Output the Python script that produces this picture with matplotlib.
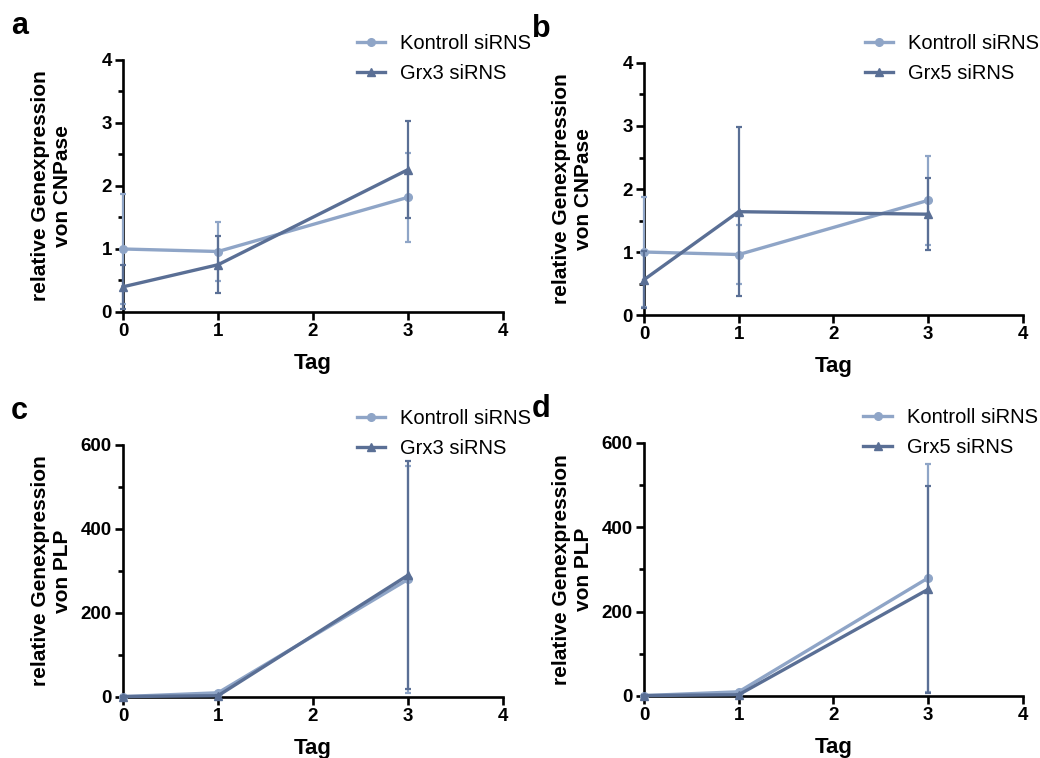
import matplotlib
matplotlib.use("Agg")
import matplotlib.pyplot as plt
from matplotlib.ticker import MultipleLocator

plt.rcParams['font.family'] = ['Liberation Sans', 'DejaVu Sans']

# Data
tage = [0, 1, 3]

# CNPase
cnp_kontroll = [1.00, 0.96, 1.82]
cnp_kontroll_err = [0.88, 0.47, 0.71]
cnp_grx3 = [0.40, 0.75, 2.26]
cnp_grx3_err = [0.35, 0.45, 0.77]
cnp_grx5 = [0.56, 1.64, 1.60]
cnp_grx5_err = [0.45, 1.34, 0.57]

# PLP
plp_kontroll = [1, 10, 280]
plp_kontroll_err = [0.5, 3, 270]
plp_grx3 = [1, 3, 290]
plp_grx3_err = [0.5, 2, 272]
plp_grx5 = [1, 3, 253]
plp_grx5_err = [0.5, 2, 245]

hell = "#8fa5c7"
dunkel = "#5a6f95"

fig = plt.figure(figsize=(10.4, 7.58), dpi=100)

# axes rectangles and legend anchors
positionen = {
    "a": [0.1183, 0.5884, 0.3654, 0.3325],
    "b": [0.6192, 0.5844, 0.3644, 0.3325],
    "c": [0.1183, 0.0805, 0.3654, 0.3325],
    "d": [0.6192, 0.0818, 0.3644, 0.3338],
}
legend_pos = {
    "a": (0.595, 1.135),
    "b": (0.562, 1.147),
    "c": (0.595, 1.175),
    "d": (0.558, 1.17),
}

panels = [
    ("a", cnp_kontroll, cnp_kontroll_err, cnp_grx3, cnp_grx3_err, "Grx3 siRNS", "von CNPase", 4, 1, 0.5),
    ("b", cnp_kontroll, cnp_kontroll_err, cnp_grx5, cnp_grx5_err, "Grx5 siRNS", "von CNPase", 4, 1, 0.5),
    ("c", plp_kontroll, plp_kontroll_err, plp_grx3, plp_grx3_err, "Grx3 siRNS", "von PLP", 600, 200, 100),
    ("d", plp_kontroll, plp_kontroll_err, plp_grx5, plp_grx5_err, "Grx5 siRNS", "von PLP", 600, 200, 100),
]

for name, k, k_err, g, g_err, g_label, gen, ymax, major, minor in panels:
    ax = fig.add_axes(positionen[name])

    ek = ax.errorbar(tage, k, yerr=k_err, color=hell, lw=2.4, elinewidth=1.6,
                     capsize=2, capthick=1.6, marker="o", ms=5.5,
                     clip_on=False, zorder=3)
    eg = ax.errorbar(tage, g, yerr=g_err, color=dunkel, lw=2.4, elinewidth=1.6,
                     capsize=2, capthick=1.6, marker="^", ms=5.5,
                     clip_on=False, zorder=4)

    ax.set_xlim(0, 4)
    ax.set_ylim(0, ymax)
    ax.xaxis.set_major_locator(MultipleLocator(1))
    ax.yaxis.set_major_locator(MultipleLocator(major))
    ax.yaxis.set_minor_locator(MultipleLocator(minor))

    for s in ["top", "right"]:
        ax.spines[s].set_visible(False)
    for s in ["left", "bottom"]:
        ax.spines[s].set_linewidth(1.9)

    ax.tick_params(which="major", direction="out", length=6, width=1.9,
                   labelsize=13.5, pad=2)
    ax.tick_params(which="minor", direction="out", length=3.5, width=1.9)
    for lbl in ax.get_xticklabels() + ax.get_yticklabels():
        lbl.set_fontweight("bold")

    ax.set_xlabel("Tag", fontsize=16, fontweight="bold", labelpad=9)
    ax.set_ylabel("relative Genexpression\n" + gen, fontsize=15,
                  fontweight="bold", linespacing=1.2)
    ax.yaxis.set_label_coords(-0.135, 0.5)

    ax.legend([ek.lines[0], eg.lines[0]], ["Kontroll siRNS", g_label],
              loc="upper left", bbox_to_anchor=legend_pos[name], frameon=False,
              fontsize=14.5, handlelength=1.4, handletextpad=0.75,
              labelspacing=0.55, borderaxespad=0, borderpad=0.4)

    x0, y0, w, h = positionen[name]
    fig.text(x0 - 0.108, y0 + h + 0.045, name, fontsize=22, fontweight="bold",
             va="center", ha="left")

fig.savefig("out.png", dpi=100)
